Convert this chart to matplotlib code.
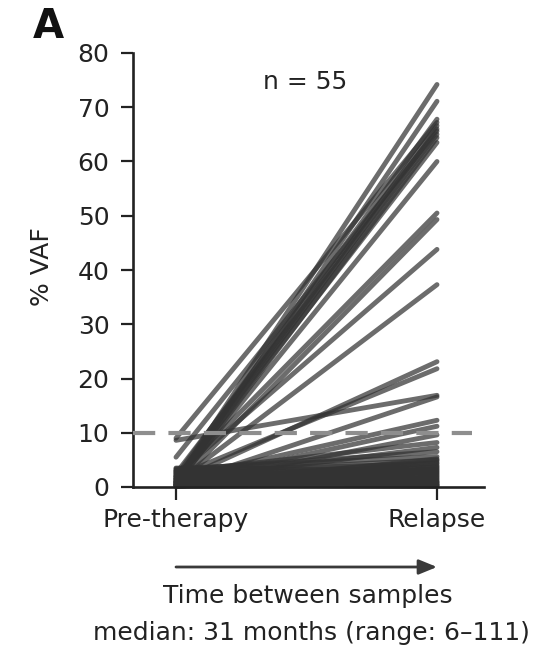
import matplotlib
matplotlib.use("Agg")
import matplotlib.pyplot as plt

plt.rcParams['font.family'] = ['DejaVu Sans']
plt.rcParams['lines.scale_dashes'] = False

timepoints = ["Pre-therapy", "Relapse"]
yticks = [0, 10, 20, 30, 40, 50, 60, 70, 80]

pre_high = [1.0, 0.5, 2.0, 9.0, 1.5, 0.8, 5.5, 2.5, 0.3, 1.2, 0.6, 1.8, 0.4, 2.2, 0.9]
rel_high = [74.2, 71.1, 67.8, 67.2, 66.6, 66.0, 65.6, 65.0, 64.4, 63.5, 60.0, 50.5, 49.3, 43.8, 37.3]

pre_mid = [1.0, 2.0, 8.6, 0.5, 1.5, 0.8, 0.3, 2.8, 1.2, 3.2]
rel_mid = [23.1, 21.8, 16.9, 16.6, 12.3, 11.2, 9.6, 8.2, 7.3, 6.5]

pre_low = [3.4, 0.2, 2.6, 1.1, 0.4, 3.0, 1.7, 0.1, 2.3, 0.7,
           1.4, 3.5, 0.9, 2.0, 0.3, 2.9, 1.6, 0.5, 1.0, 2.4,
           0.2, 3.1, 1.3, 0.6, 1.9, 0.1, 2.7, 0.8, 1.5, 0.4]
rel_low = [5.6, 5.2, 5.0, 4.8, 4.5, 4.3, 4.0, 3.8, 3.6, 3.4,
           3.2, 3.0, 2.8, 2.6, 2.4, 2.2, 2.0, 1.8, 1.6, 1.4,
           1.2, 1.0, 0.9, 0.8, 0.6, 0.5, 0.4, 0.3, 0.2, 0.1]

pre_vals = pre_low + pre_mid + pre_high
rel_vals = rel_low + rel_mid + rel_high
threshold = 10
n_label = "n = 55"

FS = 18
TXT = '#222222'

W, H = 560, 654
fig = plt.figure(figsize=(W / 100, H / 100), dpi=100)
ax = fig.add_axes([133 / W, (H - 487) / H, (484 - 133) / W, (487 - 53) / H])

px_per_unit = 261.0
xl = (133 - 176) / px_per_unit
xr = (484 - 176) / px_per_unit
ax.set_xlim(xl, xr)
ax.set_ylim(0, 80)

for p, r in zip(pre_vals, rel_vals):
    ax.plot([0, 1], [p, r], color='#333333', alpha=0.72, lw=3.5,
            solid_capstyle='round', clip_on=False, zorder=2)

dash_right = (472 - 176) / px_per_unit
ax.plot([xl, dash_right], [threshold, threshold], color='#8e8e8e', lw=3.0,
        dashes=(16, 9.5), zorder=3, clip_on=False)

for s in ['top', 'right']:
    ax.spines[s].set_visible(False)
for s in ['left', 'bottom']:
    ax.spines[s].set_linewidth(1.9)
    ax.spines[s].set_color('#222222')

ax.set_yticks(yticks)
ax.set_yticklabels([str(v) for v in yticks])
ax.set_xticks([0, 1])
ax.set_xticklabels(timepoints)
ax.tick_params(axis='both', length=9, width=1.6, color='#222222',
               labelsize=FS, labelcolor=TXT, pad=8)
ax.tick_params(axis='x', pad=6)

ax.set_ylabel("% VAF", fontsize=FS, color=TXT)
ax.yaxis.set_label_coords((54 - 133) / (484 - 133), (487 - 267) / (487 - 53))

ax.text(0.494, 74.6, n_label, fontsize=FS, color=TXT, ha='center', va='center')

fig.text(48 / W, 1 - 27 / H, "A", fontsize=29, fontweight='bold', color='#111111',
         ha='center', va='center')

trans = ax.get_xaxis_transform()
ay = -(567 - 487) / (487 - 53)
ax.annotate("", xy=(1.0, ay), xytext=(0.0, ay), xycoords=trans, textcoords=trans,
            arrowprops=dict(arrowstyle='-|>,head_length=1.1,head_width=0.45',
                            color='#3a3a3a', lw=2.0, shrinkA=0, shrinkB=0),
            annotation_clip=False)

fig.text(308 / W, 1 - 596 / H, "Time between samples", fontsize=FS,
         color=TXT, ha='center', va='center')
fig.text(311 / W, 1 - 633 / H, "median: 31 months (range: 6\u2013111)", fontsize=FS,
         color=TXT, ha='center', va='center')

fig.savefig("out.png", dpi=100)
